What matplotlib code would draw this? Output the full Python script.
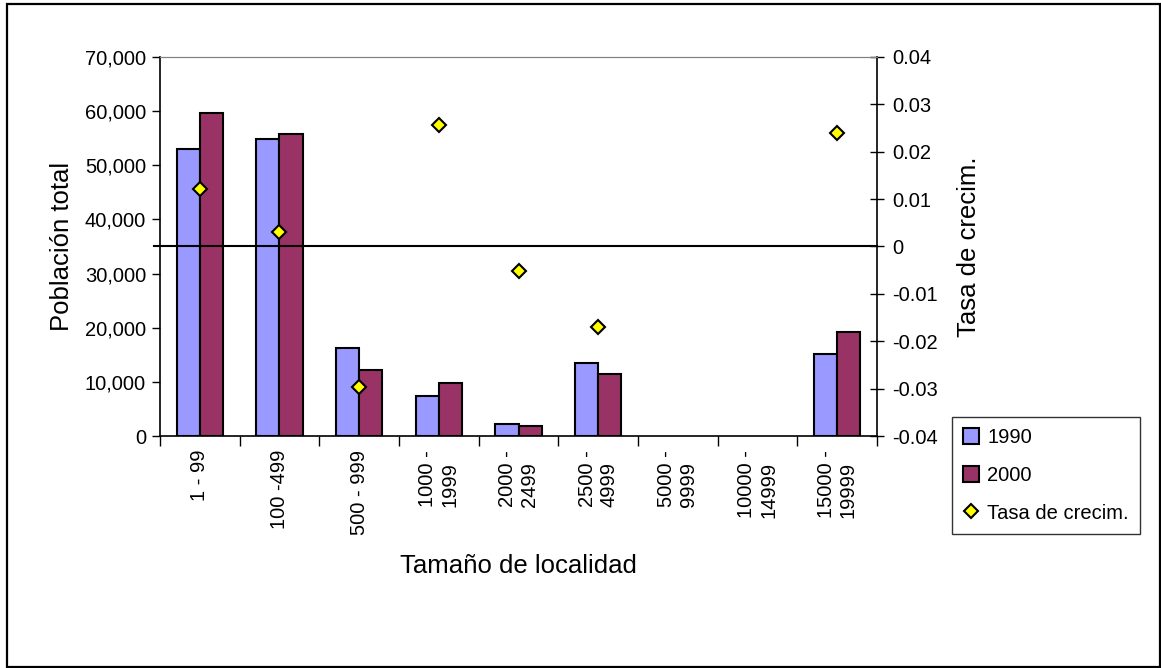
import matplotlib.pyplot as plt
import numpy as np
from matplotlib.patches import Rectangle

plt.rcParams['font.family'] = ['Liberation Sans', 'DejaVu Sans']

# Population by locality size, 1990 vs 2000, plus growth rate
categorias = ['1 - 99', '100 -499', '500 - 999', '1000 -\n1999', '2000 -\n2499',
              '2500 -\n4999', '5000 -\n9999', '10000 -\n14999', '15000 -\n19999']
pob_1990 = [53000, 54800, 16300, 7400, 2200, 13400, 0, 0, 15200]
pob_2000 = [59600, 55800, 12200, 9700, 1800, 11500, 0, 0, 19300]
tasa = [0.0122, 0.0030, -0.0297, 0.0257, -0.0051, -0.0170, np.nan, np.nan, 0.0240]

fig = plt.figure(figsize=(11.61, 6.68), dpi=100)
fig.patches.append(Rectangle((6.5 / 1161, 0.7 / 668), 1153 / 1161, 663 / 668,
                             transform=fig.transFigure, fill=False,
                             edgecolor='black', linewidth=1.6))

ax = fig.add_axes([0.1378, 0.3473, 0.6176, 0.5674])
x = np.arange(len(categorias))
w = 0.29
b1 = ax.bar(x - w / 2, pob_1990, w, color='#9999FF', edgecolor='black', linewidth=1.5, label='1990')
b2 = ax.bar(x + w / 2, pob_2000, w, color='#993366', edgecolor='black', linewidth=1.5, label='2000')
# empty categories leave no outline
for p in list(b1) + list(b2):
    if p.get_height() == 0:
        p.set_visible(False)

ax.set_xlim(-0.5, len(categorias) - 0.5)
ax.set_ylim(0, 70000)
ax.set_yticks(np.arange(0, 70001, 10000))
ax.set_yticklabels([f'{v:,}' for v in range(0, 70001, 10000)])
ax.set_xticks(x)
ax.set_xticklabels(categorias, rotation=90, va='top', ha='center', multialignment='left')
ax.set_xticks(np.arange(-0.5, len(categorias)), minor=True)
ax.tick_params(axis='x', which='major', length=0, pad=10, labelsize=14.5)
ax.tick_params(axis='x', which='minor', length=7, width=1, direction='out')
ax.tick_params(axis='y', length=6, width=1, direction='out', labelsize=14.5, pad=4)
ax.set_ylabel('Población total', fontsize=18.5, labelpad=8)
ax.set_xlabel('Tamaño de localidad', fontsize=18.5, labelpad=14)
ax.spines['top'].set_color('#808080')
ax.spines['right'].set_visible(False)

ax2 = ax.twinx()
ax2.set_ylim(-0.04, 0.04)
ax2.set_yticks(np.arange(-0.04, 0.0401, 0.01))
ax2.set_yticklabels(['-0.04', '-0.03', '-0.02', '-0.01', '0', '0.01', '0.02', '0.03', '0.04'])
ax2.tick_params(axis='y', length=10, width=1, direction='inout', labelsize=14.5, pad=6)
ax2.axhline(0, color='black', linewidth=1.5, xmin=-0.008, clip_on=False)
d = ax2.plot(x, tasa, linestyle='none', marker='D', markersize=7.5, markerfacecolor='#FFFF00',
             markeredgecolor='black', markeredgewidth=1.5, label='Tasa de crecim.')
ax2.set_ylabel('Tasa de crecim.', fontsize=18.5, labelpad=14)
ax2.spines['top'].set_color('#808080')
ax2.spines['right'].set_linewidth(1.2)
for s in ('left', 'bottom'):
    ax2.spines[s].set_visible(False)
ax.spines['left'].set_linewidth(1.2)
ax.spines['bottom'].set_linewidth(1.2)

leg = fig.legend([b1, b2, d[0]], ['1990', '2000', 'Tasa de crecim.'],
                 loc='upper left', bbox_to_anchor=(952 / 1161, 1 - 417 / 668),
                 fontsize=14.5, frameon=True, fancybox=False, edgecolor='black',
                 handlelength=0.8, handleheight=0.8, handletextpad=0.4,
                 labelspacing=0.93, borderpad=0.55, borderaxespad=0)
leg.get_frame().set_linewidth(1.0)

fig.savefig('out.png', dpi=100)
